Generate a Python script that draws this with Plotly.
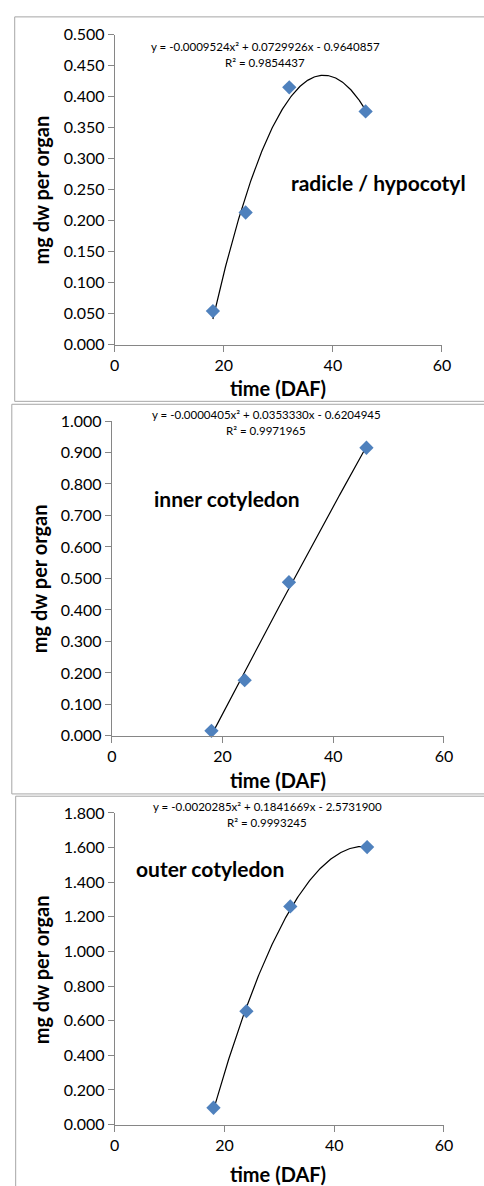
import numpy as np
import plotly.graph_objects as go

# ---------------- data ----------------
time_daf = [18, 24, 32, 46]

radicle_vals = [0.054, 0.213, 0.415, 0.376]
inner_vals = [0.016, 0.177, 0.488, 0.915]
outer_vals = [0.097, 0.655, 1.260, 1.603]

# trendline coefficients (a, b, c) for y = a x^2 + b x + c, as printed in the chart
radicle_coef = [-0.0009524, 0.0729926, -0.9640857]
inner_coef = [-0.0000405, 0.0353330, -0.6204945]
outer_coef = [-0.0020285, 0.1841669, -2.5731900]

radicle_eq = "y = -0.0009524x² + 0.0729926x - 0.9640857"
radicle_r2 = "R² = 0.9854437"
inner_eq = "y = -0.0000405x² + 0.0353330x - 0.6204945"
inner_r2 = "R² = 0.9971965"
outer_eq = "y = -0.0020285x² + 0.1841669x - 2.5731900"
outer_r2 = "R² = 0.9993245"

labels = ["radicle / hypocotyl", "inner cotyledon", "outer cotyledon"]
y_ranges = [[0, 0.5], [0, 1.0], [0, 1.8]]
y_dticks = [0.05, 0.1, 0.2]
x_ticks = [0, 20, 40, 60]

# ---------------- layout helpers ----------------
W, H = 484, 1186
def px(x):
    return x / W
def py(y):
    return 1 - y / H

FONT = "Lato, 'Open Sans', sans-serif"
AXIS_GRAY = "#868686"
BORDER_GRAY = "#a6a6a6"
MARKER_BLUE = "#4F81BD"

# panels: plot-area pixel boxes (left, right, top, bottom)
panels = [
    dict(l=113, r=450, t=25, b=340),
    dict(l=110, r=452, t=417.7, b=737.7),
    dict(l=113, r=452, t=816, b=1132.7),
]
series = [radicle_vals, inner_vals, outer_vals]
coefs = [radicle_coef, inner_coef, outer_coef]
eqs = [(radicle_eq, radicle_r2), (inner_eq, inner_r2), (outer_eq, outer_r2)]
eq_pos = [(268, 37, 53), (269, 411, 427.7), (270, 809, 825.7)]
label_pos = [(292, 175.7), (151, 496.7), (133, 872)]
ytitle_pos = [(37, 182.5), (35, 577.5), (37, 975)]
xtitle_pos = [(281, 384), (281, 783), (281, 1183)]
borders = [
    (10, 7, 397.7),
    (7, 400.7, 796.7),
    (11, 799, 1200),
]

fig = go.Figure()
annotations = []
shapes = []
layout_axes = {}

for i in range(3):
    p = panels[i]
    xa = "x" if i == 0 else f"x{i+1}"
    ya = "y" if i == 0 else f"y{i+1}"
    xkey = "xaxis" if i == 0 else f"xaxis{i+1}"
    ykey = "yaxis" if i == 0 else f"yaxis{i+1}"

    a, b, c = coefs[i]
    xs = np.linspace(min(time_daf), max(time_daf), 200)
    ys = a * xs**2 + b * xs + c

    fig.add_trace(go.Scatter(x=xs, y=ys, mode="lines", xaxis=xa, yaxis=ya,
                             line=dict(color="black", width=1.2),
                             showlegend=False, hoverinfo="skip"))
    fig.add_trace(go.Scatter(x=time_daf, y=series[i], mode="markers", xaxis=xa, yaxis=ya,
                             marker=dict(symbol="diamond", size=11, color=MARKER_BLUE),
                             showlegend=False, cliponaxis=False))

    layout_axes[xkey] = dict(
        domain=[px(p["l"]), px(p["r"])], anchor=ya, range=[0, 60],
        tickvals=x_ticks, ticks="outside", ticklen=6, tickcolor=AXIS_GRAY,
        showline=True, linecolor=AXIS_GRAY, linewidth=1, showgrid=False,
        zeroline=False, tickfont=dict(family=FONT, size=16, color="black"),
        fixedrange=True,
    )
    layout_axes[ykey] = dict(
        domain=[py(p["b"]), py(p["t"])], anchor=xa, range=y_ranges[i],
        dtick=y_dticks[i], tick0=0, tickformat=".3f", ticks="outside", ticklen=6,
        tickcolor=AXIS_GRAY, showline=True, linecolor=AXIS_GRAY, linewidth=1,
        showgrid=False, zeroline=False,
        tickfont=dict(family=FONT, size=16, color="black"), fixedrange=True,
    )

    ex, ey1, ey2 = eq_pos[i]
    annotations.append(dict(x=px(ex), y=py(ey1), xref="paper", yref="paper",
                            text=eqs[i][0], showarrow=False, xanchor="center", yanchor="middle",
                            font=dict(family=FONT, size=11.5, color="black")))
    annotations.append(dict(x=px(ex), y=py(ey2), xref="paper", yref="paper",
                            text=eqs[i][1], showarrow=False, xanchor="center", yanchor="middle",
                            font=dict(family=FONT, size=11.5, color="black")))
    lx, ly = label_pos[i]
    annotations.append(dict(x=px(lx), y=py(ly), xref="paper", yref="paper",
                            text=f"<b>{labels[i]}</b>", showarrow=False, xanchor="left", yanchor="middle",
                            font=dict(family=FONT, size=21, color="black")))
    tx, ty = ytitle_pos[i]
    annotations.append(dict(x=px(tx), y=py(ty), xref="paper", yref="paper",
                            text="<b>mg dw per organ</b>", showarrow=False, textangle=-90,
                            xanchor="center", yanchor="middle",
                            font=dict(family=FONT, size=20, color="black")))
    xx, xy = xtitle_pos[i]
    annotations.append(dict(x=px(xx), y=py(xy), xref="paper", yref="paper",
                            text="<b>time (DAF)</b>", showarrow=False,
                            xanchor="center", yanchor="middle",
                            font=dict(family=FONT, size=20, color="black")))

    bl, bt, bb = borders[i]
    shapes.append(dict(type="rect", xref="paper", yref="paper",
                       x0=px(bl), x1=px(W + 10), y0=py(bb), y1=py(bt),
                       line=dict(color=BORDER_GRAY, width=1), layer="below"))

fig.update_layout(
    width=W, height=H, autosize=False,
    margin=dict(l=0, r=0, t=0, b=0),
    paper_bgcolor="white", plot_bgcolor="white",
    annotations=annotations, shapes=shapes,
    **layout_axes,
)

fig.write_html("out.html", config={"displayModeBar": False},
               post_script="document.body.style.margin='0';document.body.style.overflow='hidden';")
